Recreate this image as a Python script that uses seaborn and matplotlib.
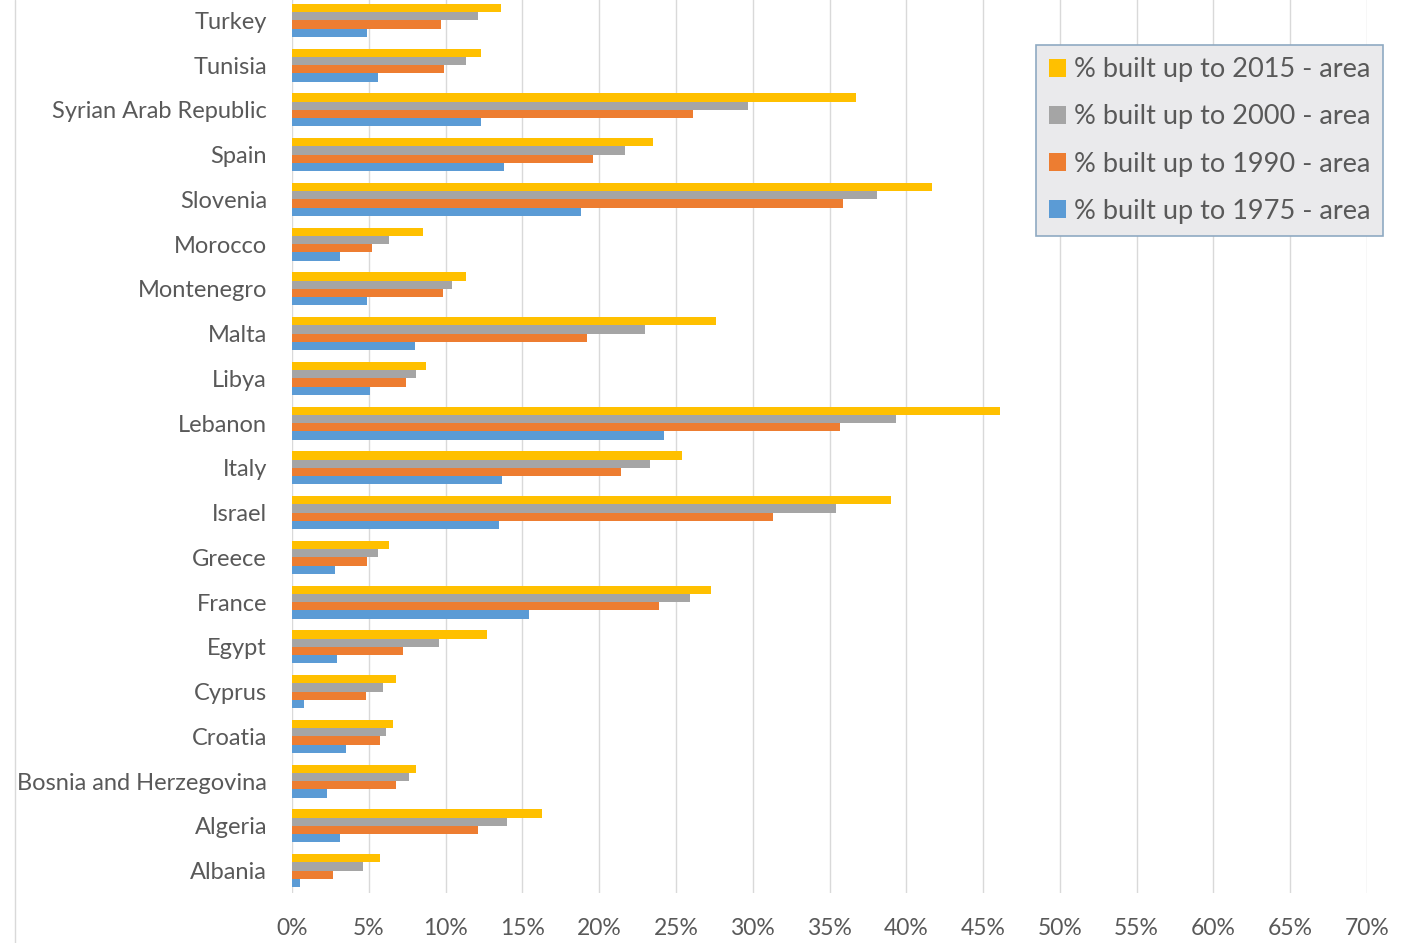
import pandas as pd
import matplotlib.pyplot as plt
import seaborn as sns
from matplotlib.ticker import PercentFormatter
from matplotlib.lines import Line2D

# countries, top to bottom as in the chart
countries = ['Turkey', 'Tunisia', 'Syrian Arab Republic', 'Spain', 'Slovenia', 'Morocco',
             'Montenegro', 'Malta', 'Libya', 'Lebanon', 'Italy', 'Israel', 'Greece', 'France',
             'Egypt', 'Cyprus', 'Croatia', 'Bosnia and Herzegovina', 'Algeria', 'Albania']

# share of built-up area (%)
built_2015 = [13.6, 12.3, 36.7, 23.5, 41.7, 8.5, 11.3, 27.6, 8.7, 46.1,
              25.4, 39.0, 6.3, 27.3, 12.7, 6.8, 6.6, 8.1, 16.3, 5.7]
built_2000 = [12.1, 11.3, 29.7, 21.7, 38.1, 6.3, 10.4, 23.0, 8.1, 39.3,
              23.3, 35.4, 5.6, 25.9, 9.6, 5.9, 6.1, 7.6, 14.0, 4.6]
built_1990 = [9.7, 9.9, 26.1, 19.6, 35.9, 5.2, 9.8, 19.2, 7.4, 35.7,
              21.4, 31.3, 4.9, 23.9, 7.2, 4.8, 5.7, 6.8, 12.1, 2.7]
built_1975 = [4.9, 5.6, 12.3, 13.8, 18.8, 3.1, 4.9, 8.0, 5.1, 24.2,
              13.7, 13.5, 2.8, 15.4, 2.9, 0.8, 3.5, 2.3, 3.1, 0.5]

series_names = ['% built up to 2015 - area', '% built up to 2000 - area',
                '% built up to 1990 - area', '% built up to 1975 - area']
series_colors = ['#FFC000', '#A5A5A5', '#ED7D31', '#5B9BD5']


def main():
    rows = []
    for name, vals in zip(series_names, [built_2015, built_2000, built_1990, built_1975]):
        for c, v in zip(countries, vals):
            rows.append({'Country': c, 'Series': name, 'Value': v / 100})
    df = pd.DataFrame(rows)

    sns.set_style('white')
    plt.rcParams['font.family'] = ['Lato', 'DejaVu Sans']

    fig = plt.figure(figsize=(14.08, 9.43), dpi=100)
    ax = fig.add_axes([292 / 1408, 1 - 893 / 943, (1367 - 292) / 1408, 895 / 943])

    sns.barplot(data=df, y='Country', x='Value', hue='Series', order=countries,
                hue_order=series_names, palette=series_colors, orient='h',
                width=0.74, gap=0, saturation=1, ax=ax, linewidth=0)

    ax.set_xlim(0, 0.70)
    ax.set_xticks([i * 0.05 for i in range(15)])
    ax.xaxis.set_major_formatter(PercentFormatter(1.0, decimals=0))
    ax.grid(axis='x', color='#D9D9D9', linewidth=1)
    ax.set_axisbelow(True)
    for s in ax.spines.values():
        s.set_visible(False)
    ax.set_xlabel('')
    ax.set_ylabel('')
    ax.tick_params(axis='y', length=0, pad=18, labelsize=17, labelcolor='#595959')
    ax.tick_params(axis='x', length=0, pad=18, labelsize=16.5, labelcolor='#595959')

    leg = ax.legend(loc='upper right', bbox_to_anchor=(1383 / 1408, 1 - 45 / 943),
                    bbox_transform=fig.transFigure, fontsize=19.5, frameon=True,
                    fancybox=False, handlelength=0.65, handleheight=0.65,
                    handletextpad=0.3, labelspacing=0.82, borderpad=0.45,
                    borderaxespad=0)
    leg.get_frame().set_facecolor('#EAEAEC')
    leg.get_frame().set_edgecolor('#8FAAC2')
    leg.get_frame().set_linewidth(1.2)
    leg.get_frame().set_alpha(1)
    for t in leg.get_texts():
        t.set_color('#595959')

    # left border of the chart area
    fig.add_artist(Line2D([15 / 1408, 15 / 1408], [0, 1], color='#D9D9D9', linewidth=1))

    fig.savefig('out.png', dpi=100)


if __name__ == '__main__':
    main()
